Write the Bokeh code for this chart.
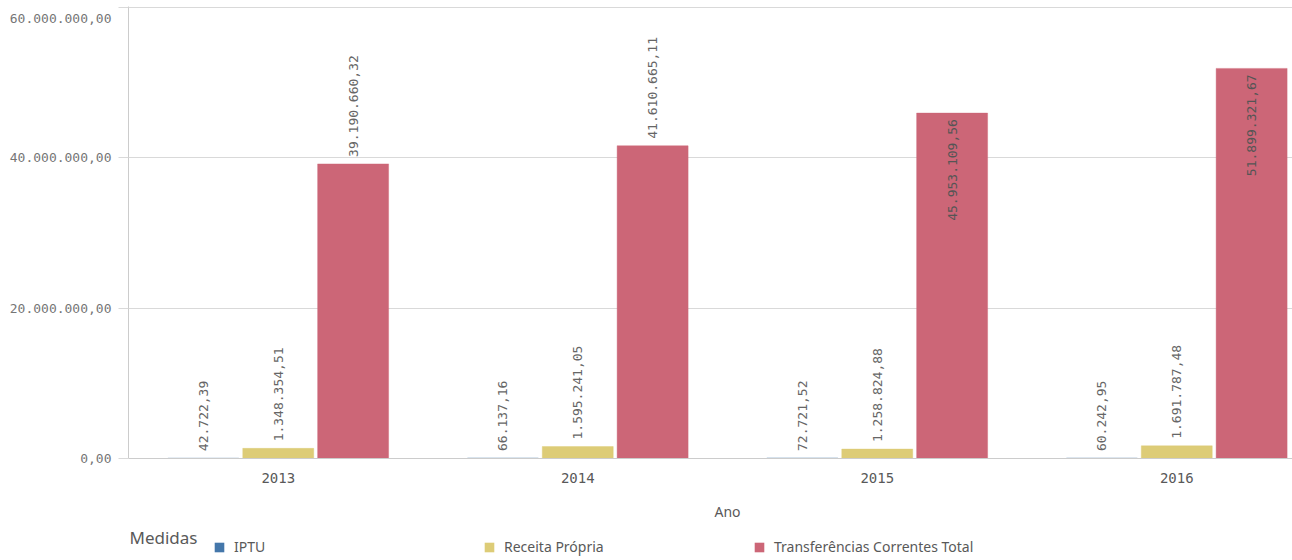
import math
from bokeh.plotting import figure
from bokeh.layouts import column
from bokeh.models import (Range1d, FixedTicker, Label, Legend, LegendItem,
                          ColumnDataSource)
from bokeh.embed import file_html
from bokeh.resources import INLINE
from bokeh.core.properties import value

# ---------------- data ----------------
anos = ["2013", "2014", "2015", "2016"]
iptu = [42722.39, 66137.16, 72721.52, 60242.95]
receita_propria = [1348354.51, 1595241.05, 1258824.88, 1691787.48]
transferencias = [39190660.32, 41610665.11, 45953109.56, 51899321.67]
series_names = ["IPTU", "Receita Própria", "Transferências Correntes Total"]
series_values = [iptu, receita_propria, transferencias]
series_colors = ["#4477aa", "#ddcc77", "#cc6677"]
y_ticks = [0, 20000000, 40000000, 60000000]
x_title = "Ano"
legend_title = "Medidas"


def fmt_br(v):
    s = f"{v:,.2f}"
    return s.replace(",", "X").replace(".", ",").replace("X", ".")


# ---------------- layout ----------------
W = 1292
H_MAIN, H_LEG = 490, 70
BORDER_L, BORDER_T = 128, 6
FRAME_H = 452
BORDER_B = H_MAIN - BORDER_T - FRAME_H
FRAME_W = W - BORDER_L
GROUP_PX = 299.5
DODGE = 0.25
BAR_W = 0.237
MONO = "DejaVu Sans Mono"
SANS = "Noto Sans"
CHAR_PX = 7.8

y_max = y_ticks[-1]
y_end = y_max * FRAME_H / (FRAME_H - 1)   # 1px headroom so the top gridline shows
x_start = -0.5
x_end = x_start + FRAME_W / GROUP_PX
x_range = Range1d(x_start, x_end)

p = figure(width=W, height=H_MAIN, output_backend="svg", toolbar_location=None,
           x_range=x_range, y_range=Range1d(0, y_end),
           min_border_left=BORDER_L, min_border_right=0,
           min_border_top=BORDER_T, min_border_bottom=BORDER_B)
p.outline_line_color = None
p.background_fill_color = "white"
p.border_fill_color = "white"

# grid
p.xgrid.grid_line_color = None
p.ygrid.ticker = FixedTicker(ticks=y_ticks)
p.ygrid.grid_line_color = "#d9d9d9"
p.ygrid.grid_line_width = 1

# y axis (top label pushed down so it sits inside the canvas)
overrides = {t: fmt_br(t) for t in y_ticks}
overrides[y_ticks[-1]] = "\n" + fmt_br(y_ticks[-1])
p.yaxis.ticker = FixedTicker(ticks=y_ticks)
p.yaxis.major_label_overrides = overrides
p.yaxis.axis_line_color = "#cccccc"
p.yaxis.major_tick_out = 10
p.yaxis.major_tick_in = 0
p.yaxis.major_tick_line_color = "#d9d9d9"
p.yaxis.minor_tick_line_color = None
p.yaxis.major_label_standoff = 7
p.yaxis.major_label_text_font = MONO
p.yaxis.major_label_text_font_size = "13px"
p.yaxis.major_label_text_line_height = 0.7
p.yaxis.major_label_text_color = "#767676"

# x axis
p.xaxis.ticker = FixedTicker(ticks=list(range(len(anos))))
p.xaxis.major_label_overrides = {i: a for i, a in enumerate(anos)}
p.xaxis.axis_line_color = "#cccccc"
p.xaxis.major_tick_line_color = None
p.xaxis.minor_tick_line_color = None
p.xaxis.major_label_standoff = 8
p.xaxis.major_label_text_font = MONO
p.xaxis.major_label_text_font_size = "14px"
p.xaxis.major_label_text_color = "#595959"

# bars + value labels
px_per_unit = FRAME_H / y_end
out_src = dict(x=[], y=[], t=[])
in_src = dict(x=[], y=[], t=[])
for k, (name, vals, col) in enumerate(zip(series_names, series_values, series_colors)):
    off = (k - 1) * DODGE
    xs = [i + off for i in range(len(anos))]
    src = ColumnDataSource(dict(x=xs, top=vals))
    p.vbar(x="x", top="top", bottom=0, width=BAR_W, source=src,
           fill_color=col, line_color=col, line_alpha=0.4, line_width=1)
    for x, v in zip(xs, vals):
        lab = fmt_br(v)
        need = len(lab) * CHAR_PX + 14
        if (y_max - v) * px_per_unit >= need:
            out_src["x"].append(x); out_src["y"].append(v); out_src["t"].append(lab)
        else:
            in_src["x"].append(x); in_src["y"].append(v); in_src["t"].append(lab)

p.text(x="x", y="y", text="t", source=ColumnDataSource(out_src), angle=math.pi / 2,
       text_align="left", text_baseline="middle", y_offset=-7,
       text_font=value(MONO), text_font_size="13px", text_color="#666666")
p.text(x="x", y="y", text="t", source=ColumnDataSource(in_src), angle=math.pi / 2,
       text_align="right", text_baseline="middle", y_offset=6,
       text_font=value(MONO), text_font_size="13px", text_color="#555555")

# ---------------- bottom strip: axis title + legend ----------------
p2 = figure(width=W, height=H_LEG, output_backend="svg", toolbar_location=None,
            x_range=x_range, y_range=Range1d(0, H_LEG),
            x_axis_type=None, y_axis_type=None,
            min_border_left=BORDER_L, min_border_right=0,
            min_border_top=0, min_border_bottom=0)
p2.outline_line_color = None
p2.background_fill_color = "white"
p2.border_fill_color = "white"

p2.add_layout(Label(x=(len(anos) - 1) / 2, y=H_LEG - 21, text=x_title,
                    text_align="center", text_baseline="middle",
                    text_font=SANS, text_font_size="14px", text_color="#595959"))
p2.add_layout(Label(x=x_start, y=H_LEG - 47, x_offset=1, text=legend_title,
                    text_align="left", text_baseline="middle",
                    text_font=SANS, text_font_size="17px", text_color="#595959"))

# legend swatches: zero-height proxy bars (nothing visible in the strip)
proxies = []
for name, col in zip(series_names, series_colors):
    r = p2.vbar(x=[0], top=[0], bottom=[0], width=BAR_W, fill_color=col,
                line_color=None)
    proxies.append(LegendItem(label=name, renderers=[r]))

leg = Legend(items=proxies, location=(85, 4), orientation="horizontal",
             glyph_width=12, glyph_height=12, label_standoff=9,
             label_width=249, label_height=14, padding=0, margin=0, spacing=0,
             border_line_color=None, background_fill_alpha=0,
             label_text_font=SANS, label_text_font_size="14px",
             label_text_color="#595959")
p2.add_layout(leg)

layout = column(p, p2, spacing=0)
open("out.html", "w").write(file_html(layout, INLINE))
